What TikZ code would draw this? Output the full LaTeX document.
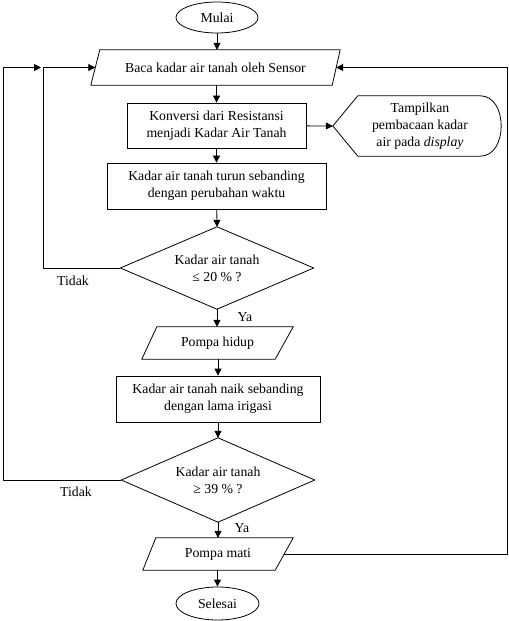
\documentclass[tikz,border=0pt]{standalone}
\usepackage{fontspec}
\setmainfont{Liberation Serif}
\usetikzlibrary{shapes.geometric,arrows.meta,calc}
\begin{document}
\begin{tikzpicture}[x=1bp,y=-1bp,
  every node/.style={font=\fontsize{13.8}{16.8}\selectfont, inner sep=0pt},
  ln/.style={line width=0.8pt},
  arr/.style={ln,-{Triangle[length=7bp,width=7bp]}},
  term/.style={draw,ln,ellipse},
  proc/.style={draw,ln,rectangle,align=center},
  ghost/.style={rectangle,align=center},
  lbl/.style={font=\fontsize{13.8}{16}\selectfont}]
\useasboundingbox (0,0) rectangle (509,621);
% terminals
\node[term,minimum width=82bp,minimum height=31bp] (mulai) at (217,17.5) {Mulai};
\node[term,minimum width=83bp,minimum height=33bp] (selesai) at (217.5,603.5) {Selesai};
% Baca (parallelogram)
\node[ghost,minimum width=249bp,minimum height=35bp] (baca) at (215.5,67.5) {Baca kadar air tanah oleh Sensor};
\draw[ln] ($(baca.north west)+(9,0)$) -- (baca.north east) -- ($(baca.south east)+(-8,0)$) -- (baca.south west) -- cycle;
% processes
\node[proc,minimum width=179bp,minimum height=45bp] (konv) at (216.5,125.5) {Konversi dari Resistansi\\menjadi Kadar Air Tanah};
\node[proc,minimum width=219bp,minimum height=46bp] (turun) at (216.5,186) {Kadar air tanah turun sebanding\\dengan perubahan waktu};
% display
\node[ghost,minimum width=169bp,minimum height=60bp] (disp) at (417.5,126) {\hspace{5bp}Tampilkan\\\hspace{5bp}pembacaan kadar\\\hspace{5bp}air pada \textit{display}};
\draw[ln] (disp.west) -- ($(disp.north west)+(25,0)$) -- ($(disp.north east)+(-22,0)$)
  .. controls ($(disp.north east)+(6,0)$) and ($(disp.south east)+(6,0)$) .. ($(disp.south east)+(-22,0)$)
  -- ($(disp.south west)+(25,0)$) -- cycle;
% decision 1
\node[ghost,minimum width=193bp,minimum height=82bp] (d1) at (217,268) {Kadar air tanah\\≤ 20 \% ?};
\draw[ln] (d1.north) -- (d1.east) -- (d1.south) -- (d1.west) -- cycle;
% pompa hidup
\node[ghost,minimum width=151bp,minimum height=32bp] (hidup) at (217.5,343) {Pompa hidup};
\draw[ln] ($(hidup.north west)+(15,0)$) -- (hidup.north east) -- ($(hidup.south east)+(-18,0)$) -- (hidup.south west) -- cycle;
% naik
\node[proc,minimum width=204bp,minimum height=46bp] (naik) at (218,399) {Kadar air tanah naik sebanding\\dengan lama irigasi};
% decision 2
\node[ghost,minimum width=193bp,minimum height=84bp] (d2) at (218,480) {Kadar air tanah\\≥ 39 \% ?};
\draw[ln] (d2.north) -- (d2.east) -- (d2.south) -- (d2.west) -- cycle;
% pompa mati
\node[ghost,minimum width=150bp,minimum height=32bp] (mati) at (218,554) {Pompa mati};
\draw[ln] ($(mati.north west)+(13,0)$) -- (mati.north east) -- ($(mati.south east)+(-18,0)$) -- (mati.south west) -- cycle;
% labels
\node[lbl] (t1) at (73,281) {Tidak};
\node[lbl] (y1) at (245,317) {Ya};
\node[lbl] (t2) at (76,492) {Tidak};
\node[lbl] (y2) at (242,528) {Ya};
% coordinates
\coordinate (bacaL) at ($(baca.west)+(4.5,0)$);
\coordinate (bacaR) at ($(baca.east)+(-4,0)$);
\coordinate (matiR) at ($(mati.east)+(-9,0)$);
% connectors
\draw[arr] (mulai) -- (baca.north -| mulai);
\draw[arr] (baca.south -| konv) -- (konv);
\draw[arr] (konv) -- (turun);
\draw[arr] (konv) -- (disp.west);
\draw[arr] (turun) -- (d1.north);
\draw[arr] (d1.south) -- (hidup.north -| d1.south);
\draw[arr] (hidup.south -| naik) -- (naik);
\draw[arr] (naik) -- (d2.north);
\draw[arr] (d2.south) -- (mati.north -| d2.south);
\draw[arr] (mati.south -| selesai) -- (selesai);
\draw[arr] (d1.west) -- (43,268) -- (43,67.5) -- (bacaL);
\draw[arr] (d2.west) -- (3,480) -- (3,67.5) -- (41,67.5);
\draw[arr] (matiR) -- (507,554) -- (507,67.5) -- (bacaR);
\end{tikzpicture}
\end{document}
